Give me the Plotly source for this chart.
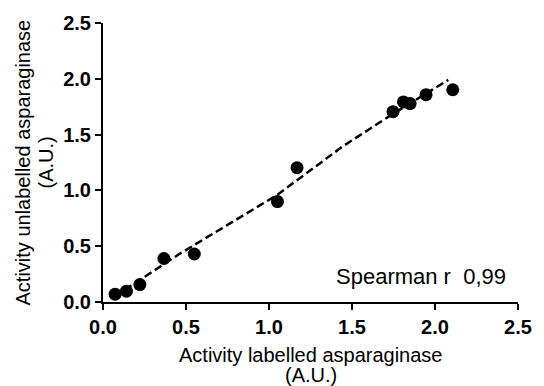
import plotly.graph_objects as go

# Data
labelled = [0.073, 0.141, 0.222, 0.367, 0.55, 1.051, 1.169, 1.747, 1.81, 1.85, 1.946, 2.107]
unlabelled = [0.07, 0.097, 0.156, 0.39, 0.43, 0.90, 1.204, 1.705, 1.793, 1.778, 1.858, 1.902]

fit_x = [0.07, 0.46, 1.05, 1.44, 1.73, 2.08]
fit_y = [0.05, 0.43, 0.96, 1.39, 1.67, 1.99]

tick_vals = [0.0, 0.5, 1.0, 1.5, 2.0, 2.5]
tick_text = ["0.0", "0.5", "1.0", "1.5", "2.0", "2.5"]

FONT = "Liberation Sans, Arial"

fig = go.Figure()
fig.add_trace(go.Scatter(
    x=fit_x, y=fit_y, mode="lines",
    line=dict(color="black", width=2.5, dash="8px,4px"),
    hoverinfo="skip", showlegend=False))
fig.add_trace(go.Scatter(
    x=labelled, y=unlabelled, mode="markers",
    marker=dict(color="black", size=13),
    showlegend=False))

axis_common = dict(
    range=[0, 2.5], tickvals=tick_vals, ticktext=tick_text,
    showline=True, linecolor="black", linewidth=2,
    ticks="outside", ticklen=6, tickwidth=2, tickcolor="black",
    showgrid=False, zeroline=False,
    tickfont=dict(family=FONT, size=20, color="black", weight="bold"),
)

fig.update_layout(
    width=544, height=386,
    margin=dict(l=103, r=17, t=19, b=84),
    plot_bgcolor="white", paper_bgcolor="white",
    xaxis=dict(**axis_common),
    yaxis=dict(**axis_common),
    font=dict(family=FONT, color="black"),
)

# x-axis title (two lines)
fig.add_annotation(
    text="Activity labelled asparaginase",
    xref="paper", yref="paper", x=0.5, y=0, xanchor="center", yanchor="middle",
    yshift=-53, showarrow=False, font=dict(size=20, family=FONT, color="black"))
fig.add_annotation(
    text="(A.U.)",
    xref="paper", yref="paper", x=0.5, y=0, xanchor="center", yanchor="middle",
    yshift=-73, showarrow=False, font=dict(size=20, family=FONT, color="black"))
# y-axis title (two lines)
fig.add_annotation(
    text="Activity unlabelled asparaginase",
    xref="paper", yref="paper", x=0, y=0.5, xanchor="center", yanchor="middle",
    xshift=-81, textangle=-90, showarrow=False,
    font=dict(size=20, family=FONT, color="black"))
fig.add_annotation(
    text="(A.U.)",
    xref="paper", yref="paper", x=0, y=0.5, xanchor="center", yanchor="middle",
    xshift=-58, textangle=-90, showarrow=False,
    font=dict(size=20, family=FONT, color="black"))

fig.add_annotation(
    text="Spearman r  0,99",
    xref="x", yref="y", x=2.44, y=0.23, xanchor="right", yanchor="middle",
    showarrow=False, font=dict(size=22, family=FONT, color="black"))

fig.write_html("out.html")
